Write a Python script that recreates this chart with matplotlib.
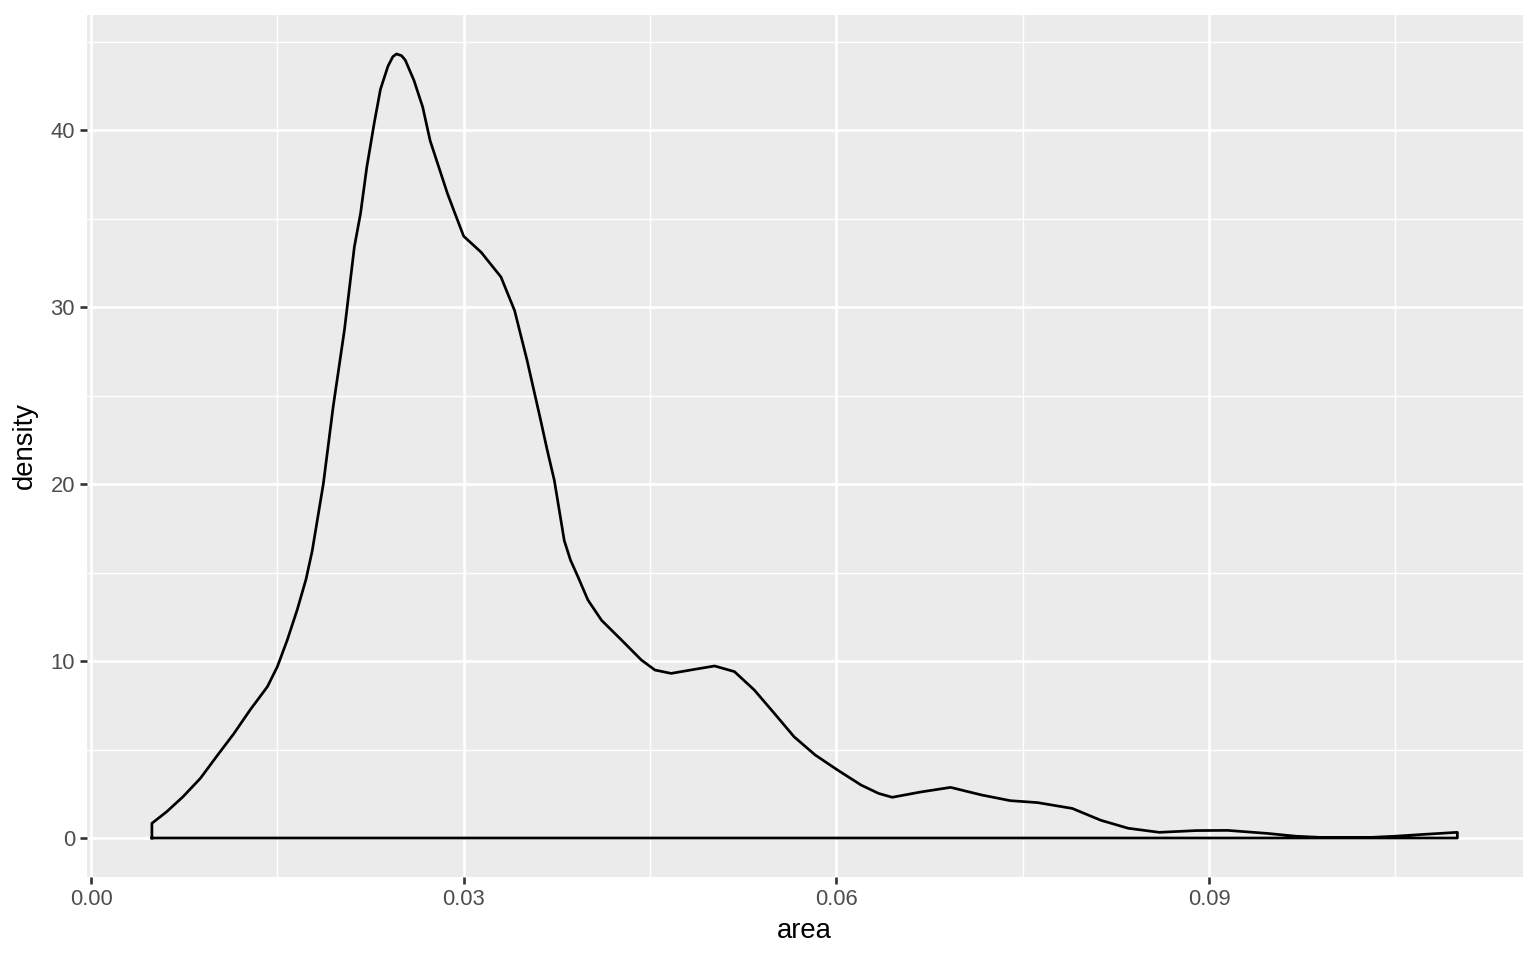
import matplotlib
matplotlib.use("Agg")
import matplotlib.pyplot as plt
import numpy as np

# density curve of "area"
area = [0.0049, 0.0061, 0.0074, 0.0088, 0.0101, 0.0115, 0.0128, 0.0142,
        0.0150, 0.0158, 0.0166, 0.0173, 0.0178, 0.0187, 0.0195, 0.0204,
        0.0212, 0.0217, 0.0222, 0.0228, 0.0233, 0.0239, 0.0243, 0.0246,
        0.0250, 0.0253, 0.0260, 0.0267, 0.0273, 0.0280, 0.0287, 0.0294,
        0.0300, 0.0314, 0.0330, 0.0341, 0.0351, 0.0362, 0.0367, 0.0373,
        0.0381, 0.0386, 0.0392, 0.0400, 0.0411, 0.0427, 0.0443, 0.0454,
        0.0467, 0.0486, 0.0502, 0.0518, 0.0534, 0.0550, 0.0566, 0.0583,
        0.0601, 0.0620, 0.0634, 0.0645, 0.0668, 0.0692, 0.0717, 0.0740,
        0.0762, 0.0790, 0.0813, 0.0835, 0.0860, 0.0890, 0.0915, 0.0947,
        0.0970, 0.0994, 0.1026, 0.1050, 0.1074, 0.1100]
density = [0.83, 1.49, 2.33, 3.37, 4.60, 5.90, 7.23, 8.55,
           9.68, 11.19, 12.9, 14.6, 16.2, 20.0, 24.4, 28.7,
           33.4, 35.3, 37.9, 40.4, 42.3, 43.6, 44.15, 44.3,
           44.2, 43.95, 42.8, 41.3, 39.4, 37.9, 36.4, 35.1,
           34.0, 33.1, 31.7, 29.8, 27.0, 23.6, 22.0, 20.2,
           16.8, 15.7, 14.76, 13.45, 12.3, 11.19, 10.06, 9.49,
           9.3, 9.53, 9.72, 9.4, 8.36, 7.05, 5.72, 4.69,
           3.84, 2.99, 2.52, 2.30, 2.6, 2.86, 2.43, 2.11,
           2.0, 1.67, 1.0, 0.55, 0.32, 0.42, 0.43, 0.26,
           0.1, 0.02, 0.02, 0.1, 0.21, 0.32]

x_major = [0.00, 0.03, 0.06, 0.09]
x_labels = ["0.00", "0.03", "0.06", "0.09"]
x_minor = [0.015, 0.045, 0.075, 0.105]
y_major = [0, 10, 20, 30, 40]
y_minor = [5, 15, 25, 35, 45]

fig = plt.figure(figsize=(15.36, 9.6), dpi=100)
ax = fig.add_axes([0.0564, 0.08625, 0.9349, 0.8984])
ax.set_facecolor("#EBEBEB")

# closed outline like geom_density: down to zero at both ends
xs = np.array(area)
ys = np.array(density)
poly_x = np.concatenate([[xs[0]], xs, [xs[-1], xs[0]]])
poly_y = np.concatenate([[0], ys, [0, 0]])
ax.plot(poly_x, poly_y, color="black", lw=1.95, solid_joinstyle="round", zorder=3)

# ggplot-like expansion of 5%
xr = xs.max() - xs.min()
ax.set_xlim(xs.min() - 0.05 * xr, xs.max() + 0.05 * xr)
yr = ys.max()
ax.set_ylim(-0.05 * yr, yr * 1.05)

ax.set_xticks(x_major)
ax.set_xticklabels(x_labels)
ax.set_xticks(x_minor, minor=True)
ax.set_yticks(y_major)
ax.set_yticks(y_minor, minor=True)

ax.grid(which="major", color="white", lw=1.92)
ax.grid(which="minor", color="white", lw=0.96)
ax.set_axisbelow(True)

for s in ax.spines.values():
    s.set_visible(False)

ax.tick_params(which="major", length=4.95, width=1.92, color="#333333",
               labelcolor="#4D4D4D", labelsize=15.8, pad=3.5)
ax.tick_params(which="minor", length=0)

ax.set_xlabel("area", fontsize=19.8, color="black", labelpad=6)
ax.set_ylabel("density", fontsize=19.8, color="black", labelpad=9)

for t in ax.get_xticklabels() + ax.get_yticklabels():
    t.set_family(["Liberation Sans", "DejaVu Sans"])
ax.xaxis.label.set_family(["Liberation Sans", "DejaVu Sans"])
ax.yaxis.label.set_family(["Liberation Sans", "DejaVu Sans"])

fig.savefig("out.png", dpi=100)
